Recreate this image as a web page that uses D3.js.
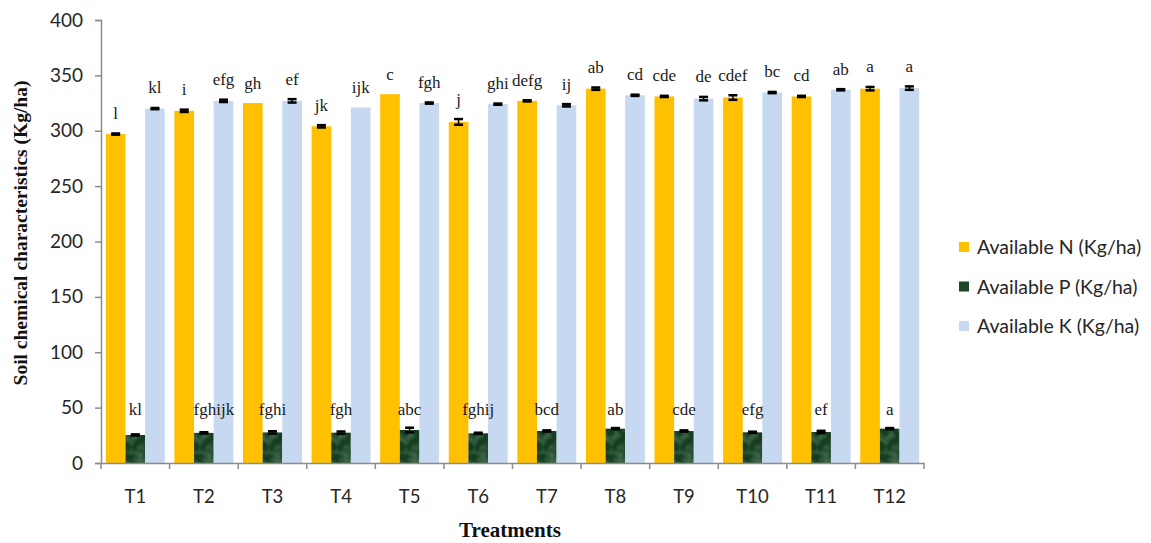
<!DOCTYPE html>
<html>
<head>
<meta charset="utf-8">
<script src="https://cdn.jsdelivr.net/npm/d3@7"></script>
<style>
  body { margin: 0; background: #fff; }
  svg { display: block; }
</style>
</head>
<body>
<svg id="chart"></svg>
<script>
// data
const treatments = ["T1", "T2", "T3", "T4", "T5", "T6", "T7", "T8", "T9", "T10", "T11", "T12"];
const seriesNames = ["Available N (Kg/ha)", "Available P (Kg/ha)", "Available K (Kg/ha)"];

const valuesN = [297, 318, 325, 304, 333, 308, 327, 338, 331, 330, 331, 338];
const errN = [1, 1.5, 0, 1.5, 0, 3, 1, 1.5, 1, 2.5, 1, 2];
const lettersN = ["l", "i", "gh", "jk", "c", "j", "defg", "ab", "cde", "cdef", "cd", "a"];

const valuesP = [25.3, 27.2, 27.6, 27.4, 29.8, 26.8, 28.9, 31, 28.9, 27.7, 28, 31];
const errP = [1, 1, 1.5, 1.5, 2.5, 1, 1, 1, 1, 1, 1.5, 1];
const lettersP = ["kl", "fghijk", "fghi", "fgh", "abc", "fghij", "bcd", "ab", "cde", "efg", "ef", "a"];

const valuesK = [320, 327, 327, 321, 325, 324, 323, 332, 329, 334.5, 337, 338.5];
const errK = [1, 1.5, 2, 0, 1, 1, 1.5, 1, 2, 1, 1, 2];
const lettersK = ["kl", "efg", "ef", "ijk", "fgh", "ghi", "ij", "cd", "de", "bc", "ab", "a"];

const yTicks = [0, 50, 100, 150, 200, 250, 300, 350, 400];

const WIDTH = 1151;
const HEIGHT = 543;
const margin = { left: 101, right: 227, top: 20, bottom: 80 };

const svg = d3.select("#chart")
  .attr("width", WIDTH)
  .attr("height", HEIGHT);

// mottled texture for the P bars
const defs = svg.append("defs");
const turb = defs.append("filter")
  .attr("id", "marble")
  .attr("x", 0).attr("y", 0).attr("width", 1).attr("height", 1);
turb.append("feTurbulence")
  .attr("type", "fractalNoise")
  .attr("baseFrequency", 0.09)
  .attr("numOctaves", 2)
  .attr("seed", 5);
turb.append("feColorMatrix")
  .attr("type", "matrix")
  .attr("values", "0 0 0 0 0.22  0 0 0 0 0.42  0 0 0 0 0.27  0 0 0 1.3 -0.55");
turb.append("feComposite").attr("in2", "SourceGraphic").attr("operator", "in");

const pat = defs.append("pattern")
  .attr("id", "pTexture")
  .attr("patternUnits", "userSpaceOnUse")
  .attr("width", 80).attr("height", 80);
pat.append("rect").attr("width", 80).attr("height", 80).attr("fill", "#163d20");
pat.append("rect").attr("width", 80).attr("height", 80).attr("fill", "#fff").attr("filter", "url(#marble)");

const colors = ["#FFC000", "url(#pTexture)", "#C6D9F0"];
const legendColors = ["#FFC000", "#1d4726", "#C6D9F0"];

const x = d3.scaleBand()
  .domain(treatments)
  .range([margin.left, WIDTH - margin.right])
  .paddingInner(0)
  .paddingOuter(0);

const inner = d3.scaleBand()
  .domain([0, 1, 2])
  .range([0, x.bandwidth()])
  .paddingInner(0)
  .paddingOuter(0.246);

const y = d3.scaleLinear()
  .domain([0, 400])
  .range([HEIGHT - margin.bottom, margin.top]);

const rows = treatments.map((t, i) => ({
  t: t,
  items: [
    { s: 0, v: valuesN[i], e: errN[i], l: lettersN[i] },
    { s: 1, v: valuesP[i], e: errP[i], l: lettersP[i] },
    { s: 2, v: valuesK[i], e: errK[i], l: lettersK[i] }
  ]
}));

// axes
const axisColor = "#8c8c8c";
const yAxis = svg.append("g")
  .attr("transform", "translate(" + margin.left + ",0)")
  .call(d3.axisLeft(y).tickValues(yTicks).tickSize(6).tickPadding(12));
yAxis.select(".domain").attr("stroke", axisColor).attr("stroke-width", 1.5);
yAxis.selectAll(".tick line").attr("stroke", axisColor).attr("stroke-width", 1.5);
yAxis.selectAll(".tick text")
  .attr("font-family", "Lato, sans-serif")
  .attr("font-size", 19)
  .attr("fill", "#262626");

// bars
const groups = svg.selectAll(".group")
  .data(rows)
.enter().append("g")
  .attr("class", "group")
  .attr("transform", d => "translate(" + x(d.t) + ",0)");

groups.selectAll(".bar")
  .data(d => d.items)
.enter().append("rect")
  .attr("class", "bar")
  .attr("x", d => inner(d.s))
  .attr("width", inner.bandwidth())
  .attr("y", d => y(d.v))
  .attr("height", d => y(0) - y(d.v))
  .attr("fill", d => colors[d.s]);

// error bars
const err = groups.selectAll(".err")
  .data(d => d.items)
.enter().append("g")
  .attr("class", "err")
  .attr("transform", d => "translate(" + (inner(d.s) + inner.bandwidth() / 2) + ",0)");

err.append("line")
  .attr("y1", d => y(d.v - d.e))
  .attr("y2", d => y(d.v + d.e))
  .attr("stroke", "#000").attr("stroke-width", 1.5);
err.append("line")
  .attr("x1", -4.5).attr("x2", 4.5)
  .attr("y1", d => y(d.v + d.e) + 0.5)
  .attr("y2", d => y(d.v + d.e) + 0.5)
  .attr("stroke", "#000").attr("stroke-width", d => d.e > 0 ? 2.5 : 0);
err.append("line")
  .attr("x1", -4.5).attr("x2", 4.5)
  .attr("y1", d => y(d.v - d.e) - 0.5)
  .attr("y2", d => y(d.v - d.e) - 0.5)
  .attr("stroke", "#000").attr("stroke-width", d => d.e > 0 ? 2.5 : 0);

// significance letters
groups.selectAll(".letter")
  .data(d => d.items)
.enter().append("text")
  .attr("class", "letter")
  .attr("x", d => inner(d.s) + inner.bandwidth() / 2 + (d.l.length > 5 ? 10 : 0))
  .attr("y", d => d.s === 1 ? y(48) + 5 : y(d.v + d.e) - 14)
  .attr("text-anchor", "middle")
  .attr("font-family", "'Liberation Serif', 'Times New Roman', serif")
  .attr("font-size", 17)
  .attr("fill", "#1a1a1a")
  .text(d => d.l);

// x axis
const xAxis = svg.append("g")
  .attr("transform", "translate(0," + y(0) + ")")
  .call(d3.axisBottom(x).tickSize(0).tickPadding(27));
xAxis.select(".domain").attr("stroke", axisColor).attr("stroke-width", 1.5);
xAxis.selectAll(".tick text")
  .attr("font-family", "Lato, sans-serif")
  .attr("font-size", 18.5)
  .attr("fill", "#262626");

xAxis.selectAll(".sep")
  .data(treatments.concat(["end"]))
.enter().append("line")
  .attr("class", "sep")
  .attr("x1", (d, i) => i < treatments.length ? x(d) : x(treatments[treatments.length - 1]) + x.bandwidth())
  .attr("x2", (d, i) => i < treatments.length ? x(d) : x(treatments[treatments.length - 1]) + x.bandwidth())
  .attr("y1", 0).attr("y2", 6)
  .attr("stroke", axisColor).attr("stroke-width", 1.5);

// axis titles
svg.append("text")
  .attr("transform", "translate(27," + 233 + ")rotate(-90)")
  .attr("text-anchor", "middle")
  .attr("font-family", "'Liberation Serif', 'Times New Roman', serif")
  .attr("font-weight", "bold")
  .attr("font-size", 19.5)
  .attr("fill", "#111")
  .text("Soil chemical characteristics (Kg/ha)");

svg.append("text")
  .attr("x", 510)
  .attr("y", 537)
  .attr("text-anchor", "middle")
  .attr("font-family", "'Liberation Serif', 'Times New Roman', serif")
  .attr("font-weight", "bold")
  .attr("font-size", 21)
  .attr("fill", "#111")
  .text("Treatments");

// legend
const legend = svg.selectAll(".legend")
  .data(seriesNames)
.enter().append("g")
  .attr("class", "legend")
  .attr("transform", (d, i) => "translate(959," + (247 + i * 39.5) + ")");

legend.append("rect")
  .attr("x", 0).attr("y", -5)
  .attr("width", 10).attr("height", 10)
  .attr("fill", (d, i) => legendColors[i]);

legend.append("text")
  .attr("x", 18)
  .attr("y", 7)
  .attr("font-family", "Lato, sans-serif")
  .attr("font-size", 19.5)
  .attr("fill", "#262626")
  .text(d => d);
</script>
</body>
</html>
